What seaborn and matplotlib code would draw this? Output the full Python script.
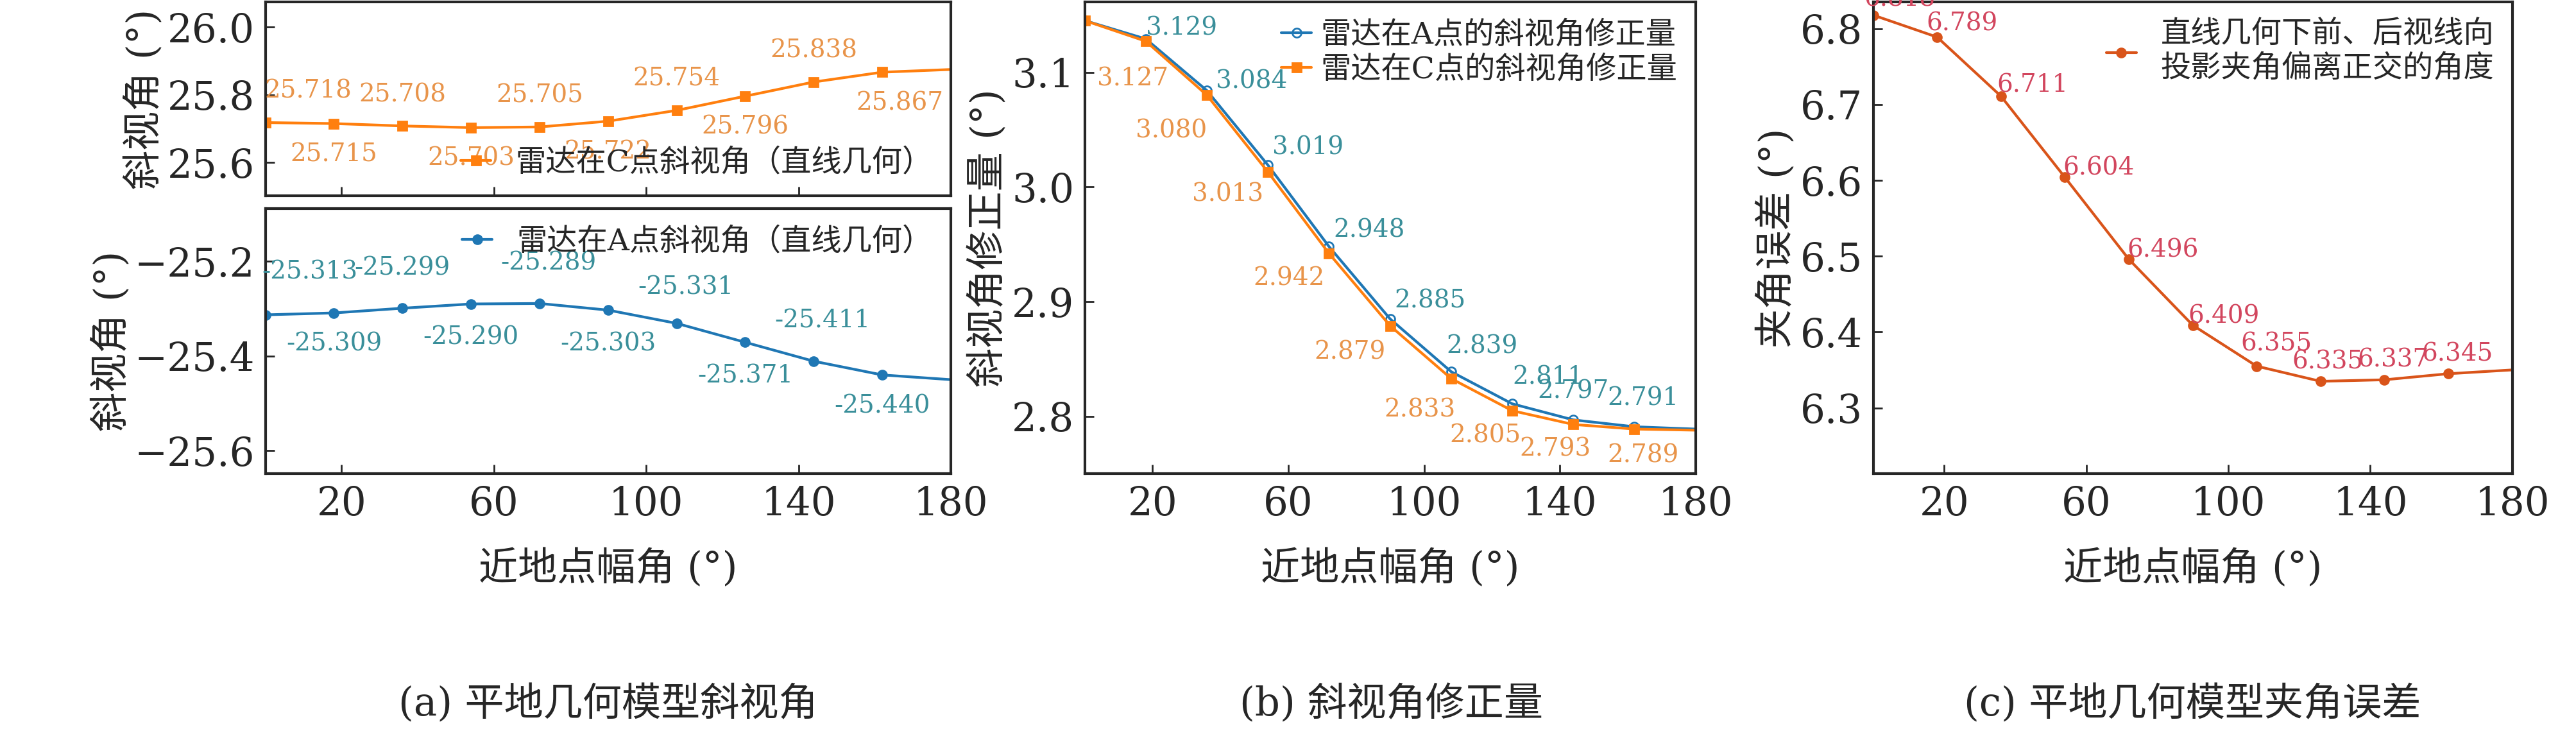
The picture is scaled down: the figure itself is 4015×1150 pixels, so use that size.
import numpy as np
import pandas as pd
import matplotlib
matplotlib.use('Agg')
import matplotlib.pyplot as plt
import seaborn as sns

sns.set_style('ticks')
plt.rcParams['font.family'] = ['DejaVu Serif', 'Noto Sans CJK SC']
plt.rcParams['axes.unicode_minus'] = True

# data
x_pts = [0, 18, 36, 54, 72, 90, 108, 126, 144, 162, 180]
c_angle = [25.718, 25.715, 25.708, 25.703, 25.705, 25.722, 25.754, 25.796, 25.838, 25.867, 25.875]
a_angle = [-25.313, -25.309, -25.299, -25.290, -25.289, -25.303, -25.331, -25.371, -25.411, -25.440, -25.450]
a_corr = [3.145, 3.129, 3.084, 3.019, 2.948, 2.885, 2.839, 2.811, 2.797, 2.791, 2.789]
c_corr = [3.145, 3.127, 3.080, 3.013, 2.942, 2.879, 2.833, 2.805, 2.793, 2.789, 2.788]
err = [6.818, 6.789, 6.711, 6.604, 6.496, 6.409, 6.355, 6.335, 6.337, 6.345, 6.350]
xticks = [20, 60, 100, 140, 180]

BLUE = '#1f77b4'
ORANGE = '#ff7f0e'
RED = '#d9541a'
T_BLUE = '#3a8f9a'
T_ORANGE = '#e8944a'
T_RED = '#d2465e'

fig = plt.figure(figsize=(40.16, 11.5), dpi=100)
ax_a1 = fig.add_axes([0.103, 0.735, 0.266, 0.262])
ax_a2 = fig.add_axes([0.103, 0.358, 0.266, 0.359])
ax_b = fig.add_axes([0.421, 0.358, 0.237, 0.639])
ax_c = fig.add_axes([0.727, 0.358, 0.248, 0.639])

TICK = 44
ANN = 28
LEG = 34


def draw(ax, y, color, marker, label, tcolor, offsets, mfc=None):
    df = pd.DataFrame({'x': x_pts, 'y': y})
    sns.lineplot(data=df, x='x', y='y', ax=ax, color=color, lw=3, label=label,
                 marker=marker, markersize=10, markevery=list(range(len(y) - 1)),
                 markerfacecolor=mfc if mfc else color, markeredgecolor=color, markeredgewidth=2)
    for i, off in enumerate(offsets):
        if off is None:
            continue
        ax.annotate(f'{y[i]:.3f}', (x_pts[i], y[i]), xytext=off, textcoords='offset points',
                    ha='center', va='center', color=tcolor, fontsize=ANN)


def style(ax, ylim, yticks, ylabel, xlab=True):
    ax.set_xlim(0, 180)
    ax.set_ylim(*ylim)
    ax.set_xticks(xticks)
    ax.set_yticks(yticks)
    ax.set_yticklabels([f'{v:.1f}'.replace('-', '\u2212') for v in yticks])
    ax.tick_params(labelsize=TICK, width=2, length=10, direction='in', pad=12)
    for s in ax.spines.values():
        s.set_linewidth(3)
    ax.set_xlabel('近地点幅角 (°)' if xlab else '', fontsize=TICK, labelpad=30)
    ax.set_ylabel(ylabel, fontsize=TICK)
    if not xlab:
        ax.set_xticklabels([])


# panel a top
c_off = [(48, 35), (0, -35), (0, 35), (0, -35), (0, 35), (0, -35), (0, 35), (0, -35), (0, 35), (20, -35)]
draw(ax_a1, c_angle, ORANGE, 's', '雷达在C点斜视角（直线几何）', T_ORANGE, c_off)
style(ax_a1, (25.502, 26.074), [25.6, 25.8, 26.0], '斜视角 (°)', xlab=False)
ax_a1.legend(loc='lower right', fontsize=LEG, frameon=False, handlelength=1.0, borderaxespad=0.2)

# panel a bottom
a_off = [(50, 48), (0, -35), (0, 45), (0, -38), (10, 45), (0, -38), (10, 40), (0, -38), (10, 45), (0, -35)]
draw(ax_a2, a_angle, BLUE, 'o', '雷达在A点斜视角（直线几何）', T_BLUE, a_off)
style(ax_a2, (-25.649, -25.089), [-25.6, -25.4, -25.2], '斜视角 (°)')
ax_a2.legend(loc='upper right', fontsize=LEG, frameon=False, handlelength=1.0, borderaxespad=0.2)

# panel b
b_off_a = [None, (40, 12), (50, 10), (45, 20), (45, 18), (45, 20), (35, 28), (40, 30), (0, 32), (10, 32)]
b_off_c = [None, (-15, -42), (-40, -40), (-45, -25), (-45, -28), (-45, -30), (-35, -35), (-30, -28), (-20, -28), (10, -30)]
draw(ax_b, a_corr, BLUE, 'o', '雷达在A点的斜视角修正量', T_BLUE, b_off_a, mfc='none')
draw(ax_b, c_corr, ORANGE, 's', '雷达在C点的斜视角修正量', T_ORANGE, b_off_c)
style(ax_b, (2.750, 3.161), [2.8, 2.9, 3.0, 3.1], '斜视角修正量 (°)')
ax_b.legend(loc='upper right', fontsize=LEG, frameon=False, handlelength=1.0, borderaxespad=0.2,
            labelspacing=0.2, handletextpad=0.3)

# panel c
c_err_off = [(30, 18), (28, 15), (35, 12), (38, 10), (38, 10), (35, 10), (22, 25), (8, 22), (10, 22), (10, 22)]
draw(ax_c, err, RED, 'o', '直线几何下前、后视线向\n投影夹角偏离正交的角度', T_RED, c_err_off)
style(ax_c, (6.213, 6.835), [6.3, 6.4, 6.5, 6.6, 6.7, 6.8], '夹角误差 (°)')
ax_c.legend(loc='upper right', fontsize=LEG, frameon=False, handlelength=1.0, borderaxespad=0.2)

fig.text(0.236, 0.03, '(a) 平地几何模型斜视角', ha='center', fontsize=TICK)
fig.text(0.540, 0.03, '(b) 斜视角修正量', ha='center', fontsize=TICK)
fig.text(0.851, 0.03, '(c) 平地几何模型夹角误差', ha='center', fontsize=TICK)

fig.savefig('out.png', dpi=100)
